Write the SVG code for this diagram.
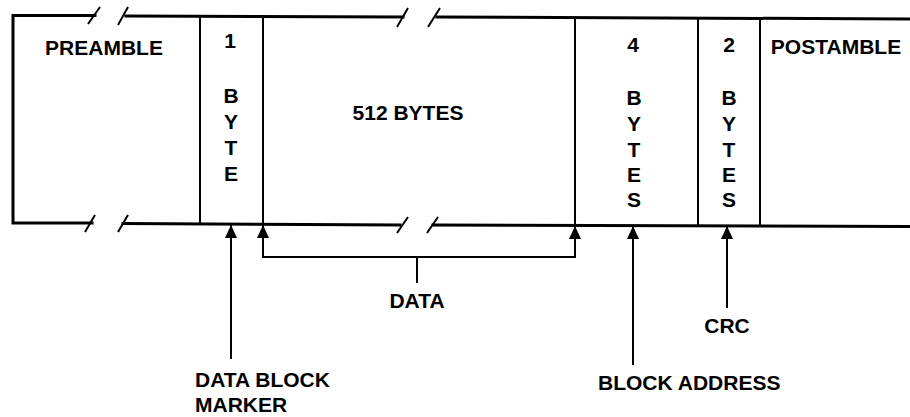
<svg xmlns="http://www.w3.org/2000/svg" width="910" height="417" viewBox="0 0 910 417">
<defs>
<style>
.frame{stroke:#000;stroke-width:3;fill:none;stroke-linecap:square}
.div{stroke:#000;stroke-width:2;fill:none}
.brk{stroke:#000;stroke-width:2;fill:none}
.conn{stroke:#000;stroke-width:2;fill:none}
text{font-family:"Liberation Sans",Arial,Helvetica,sans-serif;font-weight:bold;font-size:21px;fill:#000}
.c{text-anchor:middle}
</style>
<marker id="ah" viewBox="0 0 13 12" refX="13" refY="6" markerWidth="13" markerHeight="12" markerUnits="userSpaceOnUse" orient="auto-start-reverse">
<path d="M13,6 L0,0 L0,12 Z" fill="#000"/>
</marker>
</defs>
<rect width="910" height="417" fill="#fff"/>

<g id="frame">
<path class="frame" d="M95,15.5 L13,15.5 L13,223 L92,223"/>
<path class="frame" d="M126,16 L403,17"/>
<path class="frame" d="M437,17 L910,19"/>
<path class="frame" d="M123,223.5 L400,225"/>
<path class="frame" d="M433,225 L910,226.5"/>
<path class="brk" d="M88,24 L100,7 M118,25 L128,7 M397,27 L408,8 M428,27 L440,8"/>
<path class="brk" d="M85,232 L95,215 M118,232 L128,215 M397,233 L408,217 M427,233 L438,217"/>
</g>

<g id="preamble">
<text x="104" y="55" class="c">PREAMBLE</text>
</g>

<g id="marker-field">
<line class="div" x1="200" y1="16" x2="200" y2="224"/>
<text x="230" y="48" class="c">1</text>
<text x="231" y="103" class="c">B</text>
<text x="231" y="129" class="c">Y</text>
<text x="231" y="155" class="c">T</text>
<text x="231" y="181" class="c">E</text>
</g>

<g id="data-field">
<line class="div" x1="263" y1="16" x2="263" y2="224"/>
<text x="408" y="120" class="c">512 BYTES</text>
</g>

<g id="address-field">
<line class="div" x1="575" y1="17" x2="575" y2="225"/>
<text x="633" y="52" class="c">4</text>
<text x="634" y="105" class="c">B</text>
<text x="634" y="131" class="c">Y</text>
<text x="634" y="157" class="c">T</text>
<text x="634" y="182" class="c">E</text>
<text x="634" y="207" class="c">S</text>
</g>

<g id="crc-field">
<line class="div" x1="698" y1="18" x2="698" y2="225"/>
<text x="729" y="52" class="c">2</text>
<text x="729" y="105" class="c">B</text>
<text x="729" y="131" class="c">Y</text>
<text x="729" y="157" class="c">T</text>
<text x="729" y="182" class="c">E</text>
<text x="729" y="207" class="c">S</text>
</g>

<g id="postamble">
<line class="div" x1="760" y1="18" x2="760" y2="226"/>
<text x="836" y="54" class="c">POSTAMBLE</text>
</g>

<g id="connectors">
<line class="conn" x1="231" y1="359" x2="231" y2="225" marker-end="url(#ah)"/>
<path class="conn" d="M263,225 L263,257 L575,257 L575,226" marker-start="url(#ah)" marker-end="url(#ah)"/>
<line class="conn" x1="417" y1="257" x2="417" y2="283"/>
<line class="conn" x1="633" y1="365" x2="633" y2="226" marker-end="url(#ah)"/>
<line class="conn" x1="727" y1="308" x2="727" y2="226" marker-end="url(#ah)"/>
</g>

<g id="labels">
<text x="417" y="308" class="c">DATA</text>
<text x="195" y="387">DATA BLOCK</text>
<text x="195" y="412">MARKER</text>
<text x="727" y="333" class="c">CRC</text>
<text x="598" y="390">BLOCK ADDRESS</text>
</g>
</svg>
